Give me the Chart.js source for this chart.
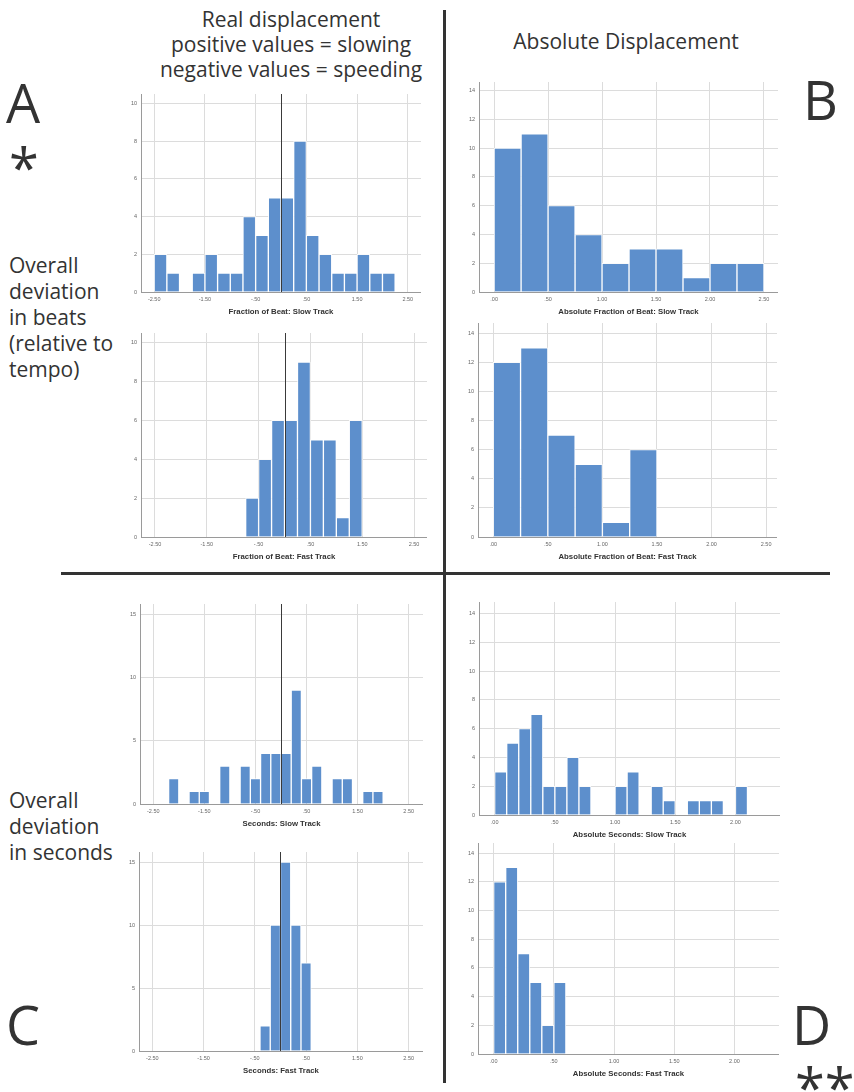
<!DOCTYPE html>
<html>
<head>
<meta charset="utf-8">
<script src="https://cdn.jsdelivr.net/npm/chart.js@4.4.0/dist/chart.umd.min.js"></script>
<style>
  body { margin:0; width:854px; height:1092px; overflow:hidden; background:#fff; position:relative;
         font-family:"Open Sans", sans-serif; color:#333; }
  .t { position:absolute; font-size:21px; line-height:25px; white-space:nowrap; }
  .side { position:absolute; font-size:21px; line-height:26px; white-space:nowrap; left:9px; }
  .big { position:absolute; font-size:54px; line-height:54px; white-space:nowrap; }
  .rule { position:absolute; background:#333; }
  canvas { position:absolute; }
</style>
</head>
<body>

<div class="t" style="left:141px; top:7px; width:300px; text-align:center;">Real displacement<br>positive values = slowing<br>negative values = speeding</div>
<div class="t" style="left:476px; top:29px; width:300px; text-align:center;">Absolute Displacement</div>

<div class="big" style="left:6px; top:75px;">A</div>
<div class="big" style="left:9px; top:140px;">*</div>
<div class="big" style="left:803px; top:72px;">B</div>
<div class="big" style="left:6px; top:997px;">C</div>
<div class="big" style="left:792px; top:997px;">D</div>
<div class="big" style="left:795px; top:1060px;">**</div>

<div class="side" style="top:252px;">Overall<br>deviation<br>in beats<br>(relative to<br>tempo)</div>
<div class="side" style="top:787px;">Overall<br>deviation<br>in seconds</div>

<div class="rule" style="left:443px; top:10px; width:3px; height:1073px;"></div>
<div class="rule" style="left:61px; top:572px; width:769px; height:3px;"></div>

<canvas id="a1"></canvas>
<canvas id="a2"></canvas>
<canvas id="b1"></canvas>
<canvas id="b2"></canvas>
<canvas id="c1"></canvas>
<canvas id="c2"></canvas>
<canvas id="d1"></canvas>
<canvas id="d2"></canvas>

<script>
// tick positions on the x axes
const realTicks = [-2.5, -1.5, -0.5, 0.5, 1.5, 2.5];
const absBeatTicks = [0, 0.5, 1, 1.5, 2, 2.5];
const absSecTicks = [0, 0.5, 1, 1.5, 2];

// histogram bins: first bin edge, bin width, counts
const beatSlowStart = -2.5, beatSlowWidth = 0.25;
const beatSlowCounts = [2, 1, 0, 1, 2, 1, 1, 4, 3, 5, 5, 8, 3, 2, 1, 1, 2, 1, 1];

const beatFastStart = -0.75, beatFastWidth = 0.25;
const beatFastCounts = [2, 4, 6, 6, 9, 5, 5, 1, 6];

const absBeatSlowStart = 0, absBeatSlowWidth = 0.25;
const absBeatSlowCounts = [10, 11, 6, 4, 2, 3, 3, 1, 2, 2];

const absBeatFastStart = 0, absBeatFastWidth = 0.25;
const absBeatFastCounts = [12, 13, 7, 5, 1, 6];

const secSlowStart = -2.2, secSlowWidth = 0.2;
const secSlowCounts = [2, 0, 1, 1, 0, 3, 0, 3, 2, 4, 4, 4, 9, 2, 3, 0, 2, 2, 0, 1, 1];

const secFastStart = -0.4, secFastWidth = 0.2;
const secFastCounts = [2, 10, 15, 10, 7];

const absSecSlowStart = 0, absSecSlowWidth = 0.1;
const absSecSlowCounts = [3, 5, 6, 7, 2, 2, 4, 2, 0, 0, 2, 3, 0, 2, 1, 0, 1, 1, 1, 0, 2];

const absSecFastStart = 0, absSecFastWidth = 0.1;
const absSecFastCounts = [12, 13, 7, 5, 2, 5];

const BAR = '#5d8fcc';
const GRID = '#dcdcdc';
const AXIS = '#9a9a9a';
const Y_W = 22, X_H = 25;

// SPSS style numbers: .50, -.50, 1.50
function fmt(v) {
  return v.toFixed(2).replace(/^(-?)0\./, '$1.');
}

const zeroLine = {
  id: 'zeroLine',
  afterDatasetsDraw(chart, args, opts) {
    if (!opts.show) return;
    const ctx = chart.ctx, a = chart.chartArea;
    const x = Math.round(chart.scales.x.getPixelForValue(0)) + 0.5;
    ctx.save();
    ctx.strokeStyle = '#3a3a3a';
    ctx.lineWidth = 1;
    ctx.beginPath();
    ctx.moveTo(x, a.top);
    ctx.lineTo(x, a.bottom);
    ctx.stroke();
    ctx.restore();
  }
};
Chart.register(zeroLine);

function hist(id, plot, start, width, counts, xr, xTicks, yMax, yStep, title, zero) {
  const cv = document.getElementById(id);
  cv.width = plot.r - plot.l + Y_W + 2;
  cv.height = plot.b - plot.t + X_H;
  cv.style.left = (plot.l - Y_W) + 'px';
  cv.style.top = plot.t + 'px';

  const pts = counts.map((c, i) => ({ x: start + (i + 0.5) * width, y: c || null }));

  new Chart(cv, {
    type: 'bar',
    data: {
      datasets: [{
        data: pts,
        backgroundColor: BAR,
        borderColor: 'rgba(255,255,255,0.85)',
        borderWidth: 1,
        barPercentage: 1,
        categoryPercentage: 1
      }]
    },
    options: {
      responsive: false,
      animation: false,
      plugins: {
        legend: { display: false },
        tooltip: { enabled: false },
        zeroLine: { show: zero }
      },
      scales: {
        x: {
          type: 'linear',
          offset: false,
          bounds: 'data',
          min: xr[0],
          max: xr[1],
          afterBuildTicks: s => { s.ticks = xTicks.map(v => ({ value: v })); },
          afterFit: s => { s.height = X_H; s.paddingLeft = 0; s.paddingRight = 0; },
          grid: { color: GRID, drawTicks: false, offset: false },
          border: { display: true, color: AXIS },
          ticks: {
            callback: v => fmt(v),
            font: { family: 'Liberation Sans', size: 5.5 },
            color: '#666',
            padding: 4,
            maxRotation: 0,
            autoSkip: false
          },
          title: {
            display: true,
            text: title,
            font: { family: 'Liberation Sans', size: 7.8, weight: 'bold' },
            color: '#333',
            padding: 0
          }
        },
        y: {
          min: 0,
          max: yMax,
          afterFit: s => { s.width = Y_W; s.paddingTop = 0; s.paddingBottom = 0; },
          grid: { color: GRID, drawTicks: false },
          border: { display: true, color: AXIS },
          ticks: {
            stepSize: yStep,
            includeBounds: false,
            font: { family: 'Liberation Sans', size: 5.5 },
            color: '#666',
            padding: 4
          }
        }
      }
    }
  });
}

hist('a1', { l: 141, t: 94, r: 419, b: 292 }, beatSlowStart, beatSlowWidth, beatSlowCounts,
     [-2.76, 2.76], realTicks, 10.5, 2, 'Fraction of Beat: Slow Track', true);
hist('a2', { l: 141, t: 333, r: 425, b: 537 }, beatFastStart, beatFastWidth, beatFastCounts,
     [-2.77, 2.75], realTicks, 10.5, 2, 'Fraction of Beat: Fast Track', true);
hist('b1', { l: 479, t: 82, r: 776, b: 292 }, absBeatSlowStart, absBeatSlowWidth, absBeatSlowCounts,
     [-0.14, 2.63], absBeatTicks, 14.6, 2, 'Absolute Fraction of Beat: Slow Track', false);
hist('b2', { l: 478, t: 323, r: 775, b: 537 }, absBeatFastStart, absBeatFastWidth, absBeatFastCounts,
     [-0.14, 2.6], absBeatTicks, 14.7, 2, 'Absolute Fraction of Beat: Fast Track', false);
hist('c1', { l: 140, t: 604, r: 421, b: 804 }, secSlowStart, secSlowWidth, secSlowCounts,
     [-2.76, 2.78], realTicks, 15.8, 5, 'Seconds: Slow Track', true);
hist('c2', { l: 139, t: 852, r: 421, b: 1051 }, secFastStart, secFastWidth, secFastCounts,
     [-2.76, 2.78], realTicks, 15.8, 5, 'Seconds: Fast Track', true);
hist('d1', { l: 479, t: 602, r: 778, b: 815 }, absSecSlowStart, absSecSlowWidth, absSecSlowCounts,
     [-0.13, 2.37], absSecTicks, 14.8, 2, 'Absolute Seconds: Slow Track', false);
hist('d2', { l: 478, t: 843, r: 777, b: 1054 }, absSecFastStart, absSecFastWidth, absSecFastCounts,
     [-0.13, 2.37], absSecTicks, 14.7, 2, 'Absolute Seconds: Fast Track', false);
</script>
</body>
</html>
